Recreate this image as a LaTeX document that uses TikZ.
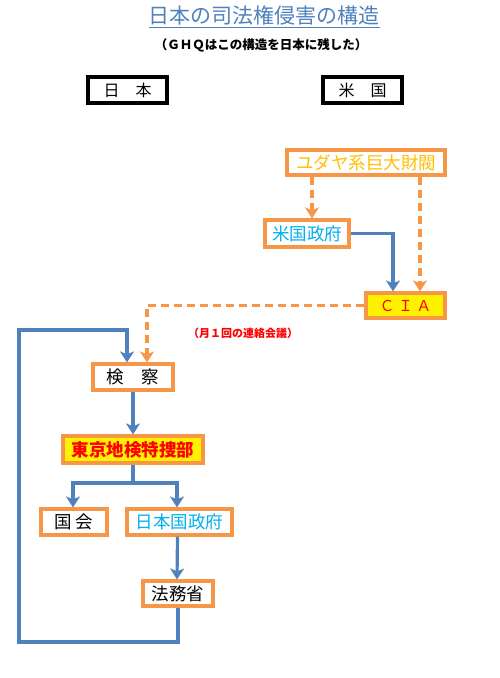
\documentclass[tikz,border=0pt]{standalone}
\usepackage{fontspec}
\setmainfont{Noto Sans CJK JP}
\usetikzlibrary{arrows.meta,calc}
\definecolor{org}{HTML}{F79646}
\definecolor{blu}{HTML}{4F81BD}
\definecolor{gold}{HTML}{FFC000}
\definecolor{cyn}{HTML}{00B0F0}
\begin{document}
\begin{tikzpicture}[x=1pt,y=-1pt,
  box/.style={draw=org,line width=3.2pt,fill=white,inner sep=0pt,font=\fontsize{17.5}{17.5}\selectfont},
  hdr/.style={draw=black,line width=3.2pt,fill=white,inner sep=0pt,minimum width=79pt,minimum height=26pt,font=\fontsize{16}{16}\selectfont},
  blink/.style={draw=blu,line width=3.2pt},
  olink/.style={draw=org,line width=3.2pt,dash pattern=on 8pt off 5pt},
  tip/.style={-{Stealth[length=11pt,width=14pt,inset=3pt]}}]
\useasboundingbox (0,0) rectangle (500,678);
\node[text=blu,font=\fontsize{21}{21}\selectfont] (title) at (264,17) {\underline{日本の司法権侵害の構造}};
\node[font=\bfseries\fontsize{12.5}{13}\selectfont] (sub) at (261,45) {（ＧＨＱはこの構造を日本に残した）};
\node[hdr] (nihon) at (127.5,90) {日　本};
\node[hdr] (beikoku) at (362.5,90) {米　国};
\node[box,text=gold,minimum width=158pt,minimum height=25pt] (yudaya) at (366,162.5) {ユダヤ系巨大財閥};
\node[box,text=cyn,minimum width=84pt,minimum height=27pt] (beiseifu) at (307,233.5) {米国政府};
\node[box,fill=yellow,text=red,minimum width=79pt,minimum height=25pt,font=\fontsize{15}{15}\selectfont] (cia) at (405.5,305.5) {Ｃ Ｉ Ａ};
\node[box,minimum width=80pt,minimum height=26pt] (kensatsu) at (133,377) {検　察};
\node[box,fill=yellow,text=red,minimum width=140pt,minimum height=27pt,font=\bfseries\fontsize{17.5}{17.5}\selectfont] (tokuso) at (133,449.5) {東京地検特捜部};
\node[box,minimum width=66pt,minimum height=26pt] (kokkai) at (74,522) {国 会};
\node[box,text=cyn,minimum width=105pt,minimum height=26pt] (nseifu) at (179.5,522) {日本国政府};
\node[box,minimum width=70pt,minimum height=25pt] (homusho) at (178,593.5) {法務省};
\node[text=red,font=\bfseries\fontsize{11}{11}\selectfont] (note) at (243,333) {（月１回の連絡会議）};
\coordinate (c1) at (19,642);
\coordinate (c2) at (19,330);
\coordinate (split) at (133,483);
% orange dashed
\draw[olink,tip] (yudaya.south -| 312,0) -- (beiseifu.north -| 312,0);
\draw[olink,tip] (yudaya.south -| 420,0) -- (cia.north -| 420,0);
\draw[olink,tip] (cia.west) -| ([xshift=14pt]kensatsu.north);
% blue
\draw[blink,tip] (beiseifu.east) -| ([xshift=-12.5pt]cia.north);
\draw[blink,tip] (homusho.south) |- (c1) -- (c2) -| ([xshift=-6pt]kensatsu.north);
\draw[blink,tip] (kensatsu.south) -- (tokuso.north);
\draw[blink] (tokuso.south) -- (split);
\draw[blink,tip] (split) -| ([xshift=-1pt]kokkai.north);
\draw[blink,tip] (split) -| ([xshift=-2.5pt]nseifu.north);
\draw[blink,tip] ([xshift=-2pt]nseifu.south) -- ([xshift=-1pt]homusho.north);
\end{tikzpicture}
\end{document}
